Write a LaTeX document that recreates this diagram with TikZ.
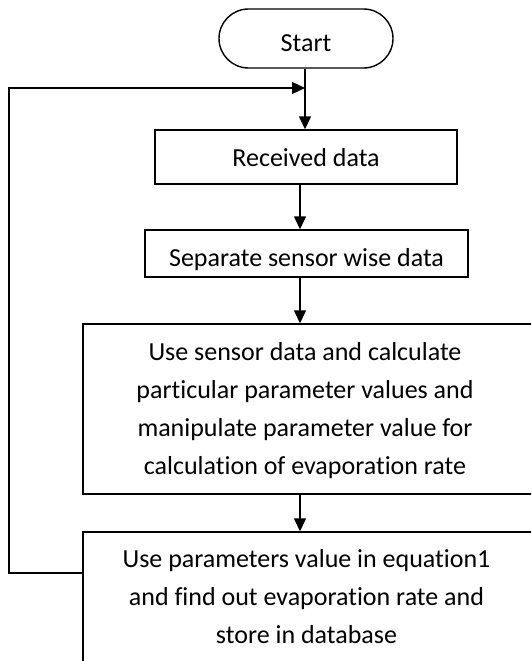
\documentclass[tikz,border=0pt]{standalone}
\usepackage{fontspec}
\setmainfont{Carlito}[Ligatures={NoCommon}]
\usetikzlibrary{arrows.meta,shapes.misc}
\begin{document}
\begin{tikzpicture}[x=1pt,y=-1pt,line width=1.4pt,
  box/.style={draw,rectangle,inner sep=0pt},
  txt/.style={font=\fontsize{26}{38}\selectfont,inner sep=0pt,align=center},
  arr/.style={-{Triangle[length=13pt,width=12pt]}}]
\useasboundingbox (0,0) rectangle (531,661);
\clip (0,0) rectangle (531,661);
\node[box,rounded rectangle,minimum width=174pt,minimum height=59pt,
  label={[txt,yshift=-4.5pt]center:Start}] (start) at (306,38.5) {};
\node[box,minimum width=302pt,minimum height=54pt,
  label={[txt,yshift=-1pt]center:Received data}] (rcv) at (306,157) {};
\node[box,minimum width=323pt,minimum height=47pt,
  label={[txt,yshift=-6pt]center:Separate sensor wise data}] (sep) at (306.5,253.5) {};
\node[box,minimum width=477pt,minimum height=170pt,
  label={[txt,xshift=-16.5pt,yshift=-2pt]center:{Use sensor data and calculate\\particular parameter values and\\manipulate parameter value for\\calculation of evaporation rate}}] (calc) at (321.5,409) {};
\node[box,minimum width=477pt,minimum height=168pt,
  label={[txt,xshift=-15pt,yshift=19pt]center:{Use parameters value in equation1\\and find out evaporation rate and\\store in database}}] (store) at (321.5,616) {};
\coordinate (join) at (305,88);
\coordinate (lc) at (9,88);
\coordinate (ld) at (9,573);
\coordinate (ax) at (300,0);
\draw[arr] (start.south -| join) -- (rcv.north -| join);
\draw[arr] (rcv.south -| ax) -- (sep.north -| ax);
\draw[arr] (sep.south -| ax) -- (calc.north -| ax);
\draw[arr] (calc.south -| ax) -- (store.north -| ax);
\draw[arr] (ld -| store.west) -- (ld) -- (lc) -- (join);
\end{tikzpicture}
\end{document}
